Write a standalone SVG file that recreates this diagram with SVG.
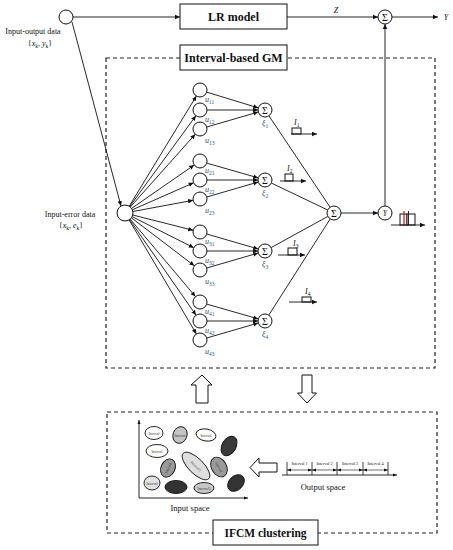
<svg xmlns="http://www.w3.org/2000/svg" width="453" height="550" viewBox="0 0 453 550">
<style>
text{font-family:"Liberation Serif","Times New Roman",serif;fill:#111}
.nd{fill:#fff;stroke:#111;stroke-width:1}
.box{fill:#fff;stroke:#111;stroke-width:1}
.ttl{font-size:12px;font-weight:bold;text-anchor:middle}
.lbl{font-size:8px;text-anchor:middle}
.ul{font-size:8px;font-style:italic;fill:#34506c}
.sub{font-size:5.5px;font-style:normal}
.sig{font-size:10px;text-anchor:middle}
.dash{fill:none;stroke:#222;stroke-width:1.2;stroke-dasharray:4,3}
.ln{stroke:#111;stroke-width:0.9;fill:none}
.ar{stroke:#111;stroke-width:0.9;fill:none;marker-end:url(#ah)}
.tiny{font-size:3.6px;text-anchor:middle;fill:#333}
.hollow{fill:#fff;stroke:#111;stroke-width:1}
</style>
<defs>
<marker id="ah" markerWidth="6" markerHeight="6" refX="5" refY="3" orient="auto" markerUnits="userSpaceOnUse"><path d="M0,0.8 L5,3 L0,5.2 z" fill="#111"/></marker>
<marker id="as" markerWidth="4" markerHeight="4" refX="4" refY="2" orient="auto" markerUnits="userSpaceOnUse"><path d="M0,0.5 L4,2 L0,3.5 z" fill="#111"/></marker>
<marker id="ass" markerWidth="4" markerHeight="4" refX="0" refY="2" orient="auto" markerUnits="userSpaceOnUse"><path d="M4,0.5 L0,2 L4,3.5 z" fill="#111"/></marker>
</defs>
<rect width="453" height="550" fill="#fff"/>

<!-- dashed frames -->
<rect class="dash" x="106" y="58" width="329" height="310"/>
<rect class="dash" x="107" y="412" width="330" height="121"/>

<g id="connectors">
<line class="ar" x1="73" y1="17" x2="180" y2="17"/>
<line class="ar" x1="72" y1="22" x2="121" y2="206"/>
<line class="ar" x1="287" y1="17" x2="378" y2="17"/>
<line class="ar" x1="392" y1="17" x2="438" y2="17"/>
<line class="ar" x1="385" y1="206" x2="385" y2="24"/>
<line class="ar" x1="341" y1="213" x2="378" y2="213"/>
<!-- input-error to u nodes -->
<line class="ar" x1="129.2" y1="206.2" x2="196.4" y2="96.0"/>
<line class="ar" x1="129.7" y1="206.5" x2="195.9" y2="115.7"/>
<line class="ar" x1="130.3" y1="207.0" x2="195.3" y2="134.2"/>
<line class="ar" x1="131.6" y1="208.4" x2="194.2" y2="165.0"/>
<line class="ar" x1="132.3" y1="209.8" x2="193.6" y2="182.8"/>
<line class="ar" x1="132.9" y1="211.5" x2="193.1" y2="200.3"/>
<line class="ar" x1="132.8" y1="215.0" x2="193.2" y2="230.3"/>
<line class="ar" x1="132.1" y1="216.6" x2="193.8" y2="247.8"/>
<line class="ar" x1="131.4" y1="217.8" x2="194.4" y2="265.8"/>
<line class="ar" x1="130.2" y1="219.1" x2="195.5" y2="296.6"/>
<line class="ar" x1="129.6" y1="219.6" x2="196.0" y2="315.2"/>
<line class="ar" x1="129.1" y1="219.9" x2="196.4" y2="334.0"/>
<!-- u to sigma -->
<line class="ar" x1="206.7" y1="92.1" x2="258.3" y2="107.9"/>
<line class="ar" x1="207" y1="110" x2="258" y2="110"/>
<line class="ar" x1="206.7" y1="127.0" x2="258.3" y2="112.0"/>
<line class="ar" x1="206.7" y1="163.1" x2="258.3" y2="177.9"/>
<line class="ar" x1="207" y1="180" x2="258" y2="180"/>
<line class="ar" x1="206.7" y1="197.0" x2="258.3" y2="182.0"/>
<line class="ar" x1="206.7" y1="234.0" x2="258.3" y2="249.0"/>
<line class="ar" x1="207" y1="251" x2="258" y2="251"/>
<line class="ar" x1="206.7" y1="268.0" x2="258.3" y2="253.0"/>
<line class="ar" x1="206.7" y1="304.1" x2="258.3" y2="318.9"/>
<line class="ar" x1="207" y1="321" x2="258" y2="321"/>
<line class="ar" x1="206.7" y1="338.0" x2="258.3" y2="323.0"/>
<!-- sigma to big sigma -->
<line class="ln" x1="268.9" y1="115.8" x2="330.1" y2="207.2"/>
<line class="ln" x1="271.3" y1="183.0" x2="327.7" y2="210.0"/>
<line class="ln" x1="271.1" y1="247.6" x2="327.9" y2="216.4"/>
<line class="ln" x1="268.8" y1="315.1" x2="330.2" y2="218.9"/>
</g>

<!-- top boxes -->
<g id="lr-model"><rect class="box" x="180" y="4" width="107" height="25"/><text class="ttl" x="233.5" y="21">LR model</text></g>
<g id="interval-gm"><rect class="box" x="180" y="45" width="107" height="25"/><text class="ttl" x="233.5" y="62">Interval-based GM</text></g>

<g id="input-output"><circle class="nd" cx="66" cy="17" r="7"/>
<text class="lbl" x="33" y="34">Input-output data</text>
<text class="lbl" x="40" y="46">{<tspan font-style="italic">x</tspan><tspan class="sub" dy="1.5">k</tspan><tspan dy="-1.5">, </tspan><tspan font-style="italic">y</tspan><tspan class="sub" dy="1.5">k</tspan><tspan dy="-1.5">}</tspan></text></g>

<g id="input-error"><circle class="nd" cx="125" cy="213" r="8"/>
<text class="lbl" x="70" y="217">Input-error data</text>
<text class="lbl" x="71" y="228">{<tspan font-style="italic">x</tspan><tspan class="sub" dy="1.5">k</tspan><tspan dy="-1.5">, </tspan><tspan font-style="italic">e</tspan><tspan class="sub" dy="1.5">k</tspan><tspan dy="-1.5">}</tspan></text></g>

<g id="sum-top"><circle class="nd" cx="385" cy="17" r="7"/><text class="sig" x="385" y="20.5">Σ</text></g>
<text x="336" y="13" font-size="8" font-style="italic" text-anchor="middle">Z</text>
<text x="446" y="20" font-size="8" font-style="italic" text-anchor="middle">Y</text>

<!-- u nodes -->
<g id="u11"><circle class="nd" cx="200" cy="90" r="7"/><text class="ul" x="205" y="102">u<tspan class="sub" dy="1.5">11</tspan></text></g>
<g id="u12"><circle class="nd" cx="200" cy="110" r="7"/><text class="ul" x="205" y="122">u<tspan class="sub" dy="1.5">12</tspan></text></g>
<g id="u13"><circle class="nd" cx="200" cy="129" r="7"/><text class="ul" x="205" y="143">u<tspan class="sub" dy="1.5">13</tspan></text></g>
<g id="u21"><circle class="nd" cx="200" cy="161" r="7"/><text class="ul" x="205" y="173">u<tspan class="sub" dy="1.5">21</tspan></text></g>
<g id="u22"><circle class="nd" cx="200" cy="180" r="7"/><text class="ul" x="205" y="192">u<tspan class="sub" dy="1.5">22</tspan></text></g>
<g id="u23"><circle class="nd" cx="200" cy="199" r="7"/><text class="ul" x="205" y="213">u<tspan class="sub" dy="1.5">23</tspan></text></g>
<g id="u31"><circle class="nd" cx="200" cy="232" r="7"/><text class="ul" x="205" y="244">u<tspan class="sub" dy="1.5">31</tspan></text></g>
<g id="u32"><circle class="nd" cx="200" cy="251" r="7"/><text class="ul" x="205" y="263">u<tspan class="sub" dy="1.5">32</tspan></text></g>
<g id="u33"><circle class="nd" cx="200" cy="270" r="7"/><text class="ul" x="205" y="284">u<tspan class="sub" dy="1.5">33</tspan></text></g>
<g id="u41"><circle class="nd" cx="200" cy="302" r="7"/><text class="ul" x="205" y="314">u<tspan class="sub" dy="1.5">41</tspan></text></g>
<g id="u42"><circle class="nd" cx="200" cy="321" r="7"/><text class="ul" x="205" y="333">u<tspan class="sub" dy="1.5">42</tspan></text></g>
<g id="u43"><circle class="nd" cx="200" cy="340" r="7"/><text class="ul" x="205" y="354">u<tspan class="sub" dy="1.5">43</tspan></text></g>

<!-- sigma nodes -->
<g id="xi1"><circle class="nd" cx="265" cy="110" r="7"/><text class="sig" x="265" y="113.5">Σ</text><text class="ul" x="262" y="126">ξ<tspan class="sub" dy="1.5">1</tspan></text></g>
<g id="xi2"><circle class="nd" cx="265" cy="180" r="7"/><text class="sig" x="265" y="183.5">Σ</text><text class="ul" x="262" y="196">ξ<tspan class="sub" dy="1.5">2</tspan></text></g>
<g id="xi3"><circle class="nd" cx="265" cy="251" r="7"/><text class="sig" x="265" y="254.5">Σ</text><text class="ul" x="262" y="267">ξ<tspan class="sub" dy="1.5">3</tspan></text></g>
<g id="xi4"><circle class="nd" cx="265" cy="321" r="7"/><text class="sig" x="265" y="324.5">Σ</text><text class="ul" x="262" y="337">ξ<tspan class="sub" dy="1.5">4</tspan></text></g>

<!-- interval icons -->
<g id="I1"><rect class="box" x="292" y="128" width="9" height="6"/><line class="ar" x1="291" y1="134" x2="317" y2="134"/><text x="294" y="125" font-size="8" font-style="italic">I<tspan class="sub" dy="1.5">1</tspan></text></g>
<g id="I2"><rect class="box" x="285" y="174" width="8" height="7"/><line class="ar" x1="280" y1="181" x2="306" y2="181"/><text x="287" y="171" font-size="8" font-style="italic">I<tspan class="sub" dy="1.5">2</tspan></text></g>
<g id="I3"><rect class="box" x="288" y="248" width="9" height="7"/><line class="ar" x1="278" y1="255" x2="305" y2="255"/><text x="293" y="246" font-size="8" font-style="italic">I<tspan class="sub" dy="1.5">3</tspan></text></g>
<g id="I4"><rect class="box" x="302" y="297" width="9" height="5"/><line class="ar" x1="289" y1="302" x2="317" y2="302"/><text x="305" y="294" font-size="8" font-style="italic">I<tspan class="sub" dy="1.5">4</tspan></text></g>

<g id="sum-big"><circle class="nd" cx="334" cy="213" r="7"/><text class="sig" x="334" y="216.5">Σ</text></g>
<g id="y-node"><circle class="nd" cx="385" cy="213" r="7"/><text x="385" y="216" font-size="8" font-style="italic" text-anchor="middle">Y</text></g>
<g id="y-interval">
<rect class="box" x="400" y="214" width="7" height="11"/><rect class="box" x="407" y="214" width="8" height="11"/>
<line x1="404" y1="211" x2="404" y2="225" stroke="#e00" stroke-width="1.2"/>
<line x1="408.5" y1="211" x2="408.5" y2="225" stroke="#111" stroke-width="0.9"/>
<line class="ar" x1="391" y1="225" x2="425" y2="225"/>
</g>

<!-- big hollow arrows -->
<path class="hollow" d="M202,375 L212,385 L208,385 L208,403 L196,403 L196,385 L191,385 Z"/>
<path class="hollow" d="M302,375 L312,375 L312,393 L316.5,393 L307,403 L297.5,393 L302,393 Z"/>
<path class="hollow" d="M250,467.5 L259,458 L259,463 L277,463 L277,472 L259,472 L259,477 Z"/>

<g id="ifcm"><rect class="box" x="213" y="520" width="105" height="25"/><text x="265.5" y="537" font-size="11.5" font-weight="bold" text-anchor="middle">IFCM clustering</text></g>

<!-- input space -->
<g id="input-space">
<line class="ln" x1="139" y1="498" x2="139" y2="420" marker-end="url(#as)"/>
<line class="ln" x1="139" y1="498" x2="248" y2="498" marker-end="url(#as)"/>
<g stroke="#111" stroke-width="0.9">
<ellipse cx="154" cy="433" rx="9" ry="6.5" fill="#fff"/>
<ellipse cx="180" cy="435" rx="7" ry="8.5" fill="#c4c4c4" transform="rotate(20 180 435)"/>
<ellipse cx="206" cy="435" rx="10" ry="6" fill="#fff" transform="rotate(10 206 435)"/>
<ellipse cx="229" cy="446" rx="7" ry="10.5" fill="#3a3a3a" transform="rotate(30 229 446)"/>
<ellipse cx="157" cy="451" rx="11" ry="6.5" fill="#fff"/>
<ellipse cx="168" cy="468" rx="7" ry="9.5" fill="#9a9a9a" transform="rotate(25 168 468)"/>
<ellipse cx="196" cy="466" rx="18" ry="7.5" fill="#dedede" transform="rotate(45 196 466)"/>
<ellipse cx="219" cy="467" rx="7.5" ry="10.5" fill="#9a9a9a" transform="rotate(-30 219 467)"/>
<ellipse cx="152" cy="483" rx="8" ry="7" fill="#e2e2e2"/>
<ellipse cx="176" cy="487" rx="11" ry="6.5" fill="#333"/>
<ellipse cx="204" cy="488" rx="10" ry="5.5" fill="#c8c8c8"/>
<ellipse cx="236" cy="483" rx="7" ry="9.5" fill="#333" transform="rotate(45 236 483)"/>
</g>
<text class="tiny" x="154" y="434.5">Interval</text>
<text class="tiny" x="180" y="436.5">Interval</text>
<text class="tiny" x="206" y="436.5">Interval</text>
<text class="tiny" x="157" y="452.5">Interval</text>
<text class="tiny" x="168" y="469.5" transform="rotate(-65 168 468)">Interval</text>
<text class="tiny" x="196" y="467.5" transform="rotate(45 196 466)">Interval3</text>
<text class="tiny" x="219" y="468.5" transform="rotate(60 219 467)">Interval</text>
<text class="tiny" x="152" y="484.5">Interval</text>
<text class="tiny" x="176" y="488.5">Interval</text>
<text class="tiny" x="204" y="489.5">Interval3</text>
<text class="tiny" x="236" y="484.5" transform="rotate(-45 236 483)">Interval</text>
<text x="190" y="511" font-size="8.5" text-anchor="middle">Input space</text>
</g>

<!-- output space -->
<g id="output-space">
<line class="ln" x1="282" y1="475" x2="397" y2="475" marker-end="url(#as)"/>
<g stroke="#111" stroke-width="0.8">
<line x1="287" y1="462" x2="287" y2="475"/><line x1="312" y1="462" x2="312" y2="475"/>
<line x1="337" y1="462" x2="337" y2="475"/><line x1="363" y1="462" x2="363" y2="475"/>
<line x1="388" y1="462" x2="388" y2="475"/>
</g>
<g stroke="#111" stroke-width="0.6" marker-start="url(#ass)" marker-end="url(#as)">
<line x1="287" y1="470" x2="312" y2="470"/><line x1="312" y1="470" x2="337" y2="470"/>
<line x1="337" y1="470" x2="363" y2="470"/><line x1="363" y1="470" x2="388" y2="470"/>
</g>
<text x="299.5" y="465" font-size="4.2" text-anchor="middle">Interval 1</text>
<text x="324.5" y="465" font-size="4.2" text-anchor="middle">Interval 2</text>
<text x="350" y="465" font-size="4.2" text-anchor="middle">Interval 3</text>
<text x="375.5" y="465" font-size="4.2" text-anchor="middle">Interval 4</text>
<text x="323" y="490" font-size="8.5" text-anchor="middle">Output space</text>
</g>
</svg>
